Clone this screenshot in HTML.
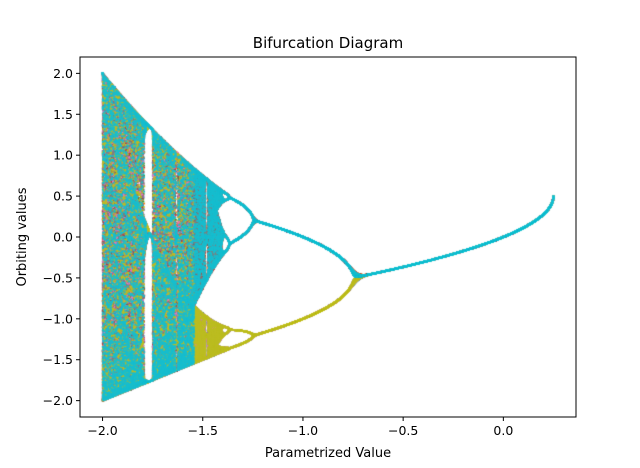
<!DOCTYPE html>
<html><head><meta charset="utf-8">
<style>
body{margin:0;background:#fff;}
#wrap{position:relative;width:640px;height:468px;font-family:"DejaVu Sans","Liberation Sans",sans-serif;}
canvas{position:absolute;left:0;top:0;}
svg{position:absolute;left:0;top:0;}
</style></head>
<body>
<div id="wrap">
<canvas id="cv" width="640" height="468"></canvas>
<svg id="sv" width="640" height="468"></svg>
</div>
<script>
const cRange = [-2.0, 0.25];
const xTicks = [-2.0, -1.5, -1.0, -0.5, 0.0];
const xTickLabels = ["\u22122.0","\u22121.5","\u22121.0","\u22120.5","0.0"];
const yTicks = [2.0, 1.5, 1.0, 0.5, 0.0, -0.5, -1.0, -1.5, -2.0];
const yTickLabels = ["2.0","1.5","1.0","0.5","0.0","\u22120.5","\u22121.0","\u22121.5","\u22122.0"];
const colors = ["#1f77b4","#ff7f0e","#2ca02c","#d62728","#9467bd","#8c564b","#e377c2","#7f7f7f","#bcbd22","#17becf"];

const L=80,R=576,T=57,B=417;
const xMin=-2.1125,xMax=0.3625,yMin=-2.2,yMax=2.2;
const xs=v=>L+(v-xMin)/(xMax-xMin)*(R-L);
const ys=v=>B-(v-yMin)/(yMax-yMin)*(B-T);

const ctx=document.getElementById('cv').getContext('2d');
ctx.save();ctx.beginPath();ctx.rect(L,T,R-L,B-T);ctx.clip();
const N=3000, skip=50, keep=150;
const pts=[];for(let k=0;k<10;k++)pts.push([]);
for(let i=0;i<=N;i++){
  const c=cRange[0]+(cRange[1]-cRange[0])*i/N;
  let x=0;
  for(let n=0;n<skip;n++)x=x*x+c;
  for(let n=0;n<keep;n++){x=x*x+c;pts[n%10].push(c,x);}
}
for(let k=0;k<10;k++){
  ctx.fillStyle=colors[k];
  const a=pts[k];
  for(let j=0;j<a.length;j+=2){
    const y=a[j+1];if(!isFinite(y))continue;
    ctx.fillRect(xs(a[j])-0.9,ys(y)-0.9,1.8,1.8);
  }
}
ctx.restore();

const sv=document.getElementById('sv');const NS="http://www.w3.org/2000/svg";
function mk(t,at,txt){const e=document.createElementNS(NS,t);for(const k in at)e.setAttribute(k,at[k]);if(txt!==undefined)e.textContent=txt;sv.appendChild(e);return e;}
let e=mk('rect',{x:L,y:T,width:R-L,height:B-T,fill:'none',stroke:'#000','stroke-width':1});


xTicks.forEach((v,i)=>{
  const x=xs(v);
  let t=mk('line',{x1:x,x2:x,y1:B,y2:B+4,stroke:'#000'});
  
  
  let l=mk('text',{x:x,y:B+18,'text-anchor':'middle','font-size':'12.5',fill:'#000'},xTickLabels[i]);
  
  
});
yTicks.forEach((v,i)=>{
  const y=ys(v);
  let t=mk('line',{x1:L-4,x2:L,y1:y,y2:y,stroke:'#000'});
  
  
  let l=mk('text',{x:L-7,y:y+4.5,'text-anchor':'end','font-size':'12.5',fill:'#000'},yTickLabels[i]);
  
  
});
e=mk('text',{x:(L+R)/2,y:48,'text-anchor':'middle','font-size':'15',fill:'#000'},'Bifurcation Diagram');


e=mk('text',{x:(L+R)/2,y:457,'text-anchor':'middle','font-size':'13',fill:'#000'},'Parametrized Value');


e=mk('text',{x:0,y:0,'text-anchor':'middle','font-size':'13',fill:'#000',transform:'translate(26,'+((T+B)/2)+') rotate(-90)'},'Orbiting values');


</script>
</body></html>
